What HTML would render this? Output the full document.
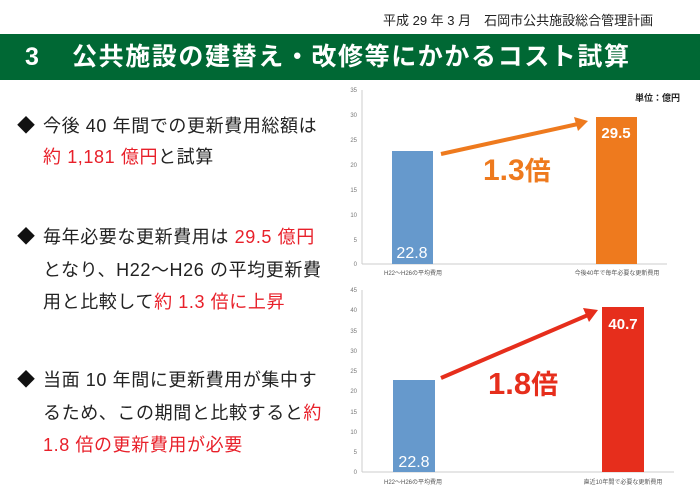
<!DOCTYPE html>
<html><head><meta charset="utf-8"><style>
body{margin:0;width:700px;height:498px;background:#fff;position:relative;overflow:hidden;font-family:"Liberation Sans","Noto Sans CJK JP",sans-serif;}
.a{position:absolute;white-space:nowrap;}
.t{font-size:18px;color:#222;line-height:20px;letter-spacing:0.6px;}
.r{color:#e8202a;}
.d{position:absolute;left:17px;font-size:18px;line-height:20px;color:#111;}
</style></head><body>
<div class="a" style="top:10px;left:383px;font-size:13px;color:#222;">平成 29 年 3 月　石岡市公共施設総合管理計画</div>
<div class="a" style="top:34px;left:0;width:700px;height:46px;background:#006834;"></div>
<div class="a" style="top:41px;left:25px;font-size:25px;font-weight:bold;color:#fff;line-height:32px;">3</div>
<div class="a" style="top:41px;left:72px;font-size:25px;font-weight:bold;color:#fff;line-height:32px;letter-spacing:1.6px;">公共施設の建替え・改修等にかかるコスト試算</div>

<div class="d" style="top:116px;">◆</div>
<div class="a t" style="top:116px;left:43px;">今後 40 年間での更新費用総額は</div>
<div class="a t" style="top:147px;left:43px;"><span class="r">約 1,181 億円</span>と試算</div>

<div class="d" style="top:227px;">◆</div>
<div class="a t" style="top:227px;left:43px;">毎年必要な更新費用は <span class="r">29.5 億円</span></div>
<div class="a t" style="top:260px;left:43px;">となり、H22～H26 の平均更新費</div>
<div class="a t" style="top:292px;left:43px;">用と比較して<span class="r">約 1.3 倍に上昇</span></div>

<div class="d" style="top:370px;">◆</div>
<div class="a t" style="top:370px;left:43px;">当面 10 年間に更新費用が集中す</div>
<div class="a t" style="top:403px;left:43px;">るため、この期間と比較すると<span class="r">約</span></div>
<div class="a t" style="top:435px;left:43px;"><span class="r">1.8 倍の更新費用が必要</span></div>

<svg class="a" style="top:0;left:0" width="700" height="498" font-family="Liberation Sans,Noto Sans CJK JP,sans-serif">
<g fill="#777" font-size="6" text-anchor="end">
<text x="357" y="92">35</text><text x="357" y="117">30</text><text x="357" y="142">25</text><text x="357" y="167">20</text><text x="357" y="192">15</text><text x="357" y="217">10</text><text x="357" y="242">5</text><text x="357" y="266">0</text>
</g>
<line x1="362" y1="90" x2="362" y2="264" stroke="#ccc"/>
<line x1="362" y1="264" x2="667" y2="264" stroke="#ccc"/>
<rect x="392" y="151" width="41" height="113" fill="#6699cc"/>
<rect x="596" y="117" width="41" height="147" fill="#ee7a1e"/>
<text x="412" y="258" fill="#fff" font-size="16" text-anchor="middle">22.8</text>
<text x="616" y="138" fill="#fff" font-size="15" font-weight="bold" text-anchor="middle">29.5</text>
<text x="680" y="101" font-size="9" font-weight="bold" fill="#222" text-anchor="end">単位：億円</text>
<line x1="441" y1="154" x2="578" y2="124" stroke="#ee7a1e" stroke-width="4"/>
<polygon points="588,121 574,117 578,131" fill="#ee7a1e"/>
<text x="483" y="180" fill="#ee7a1e" font-size="30" font-weight="bold">1.3<tspan font-size="26">倍</tspan></text>
<g fill="#555" font-size="6" text-anchor="middle"><text x="413" y="275">H22～H26の平均費用</text><text x="617" y="275">今後40年で毎年必要な更新費用</text></g>

<g fill="#777" font-size="6" text-anchor="end">
<text x="357" y="292">45</text><text x="357" y="312">40</text><text x="357" y="333">35</text><text x="357" y="353">30</text><text x="357" y="373">25</text><text x="357" y="393">20</text><text x="357" y="414">15</text><text x="357" y="434">10</text><text x="357" y="454">5</text><text x="357" y="474">0</text>
</g>
<line x1="362" y1="290" x2="362" y2="472" stroke="#ccc"/>
<line x1="362" y1="472" x2="674" y2="472" stroke="#ccc"/>
<rect x="393" y="380" width="42" height="92" fill="#6699cc"/>
<rect x="602" y="307" width="42" height="165" fill="#e62e1c"/>
<text x="414" y="467" fill="#fff" font-size="16" text-anchor="middle">22.8</text>
<text x="623" y="329" fill="#fff" font-size="15" font-weight="bold" text-anchor="middle">40.7</text>
<line x1="441" y1="378" x2="588" y2="315" stroke="#e62e1c" stroke-width="4"/>
<polygon points="598,310 583,308 589,322" fill="#e62e1c"/>
<text x="488" y="394" fill="#e62e1c" font-size="31" font-weight="bold">1.8<tspan font-size="27">倍</tspan></text>
<g fill="#555" font-size="6" text-anchor="middle"><text x="413" y="484">H22～H26の平均費用</text><text x="623" y="484">直近10年間で必要な更新費用</text></g>
</svg>
</body></html>
